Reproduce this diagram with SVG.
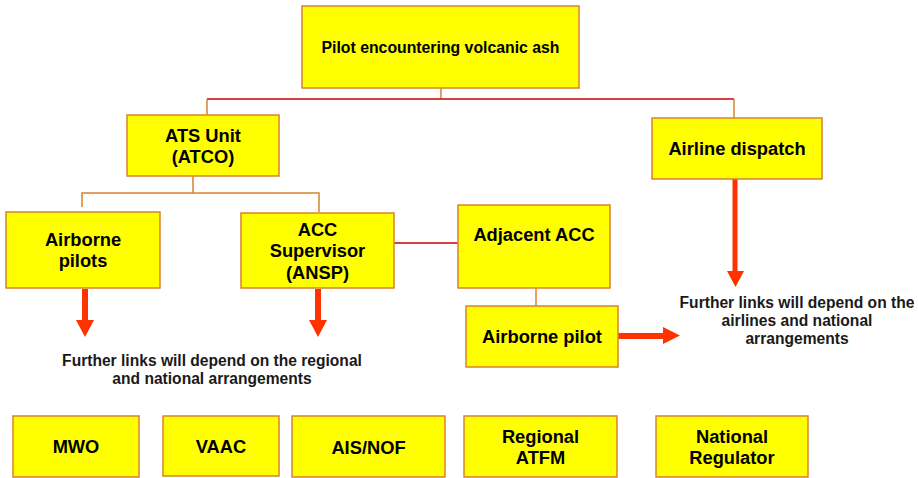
<svg xmlns="http://www.w3.org/2000/svg" width="918" height="478" viewBox="0 0 918 478">
<style>
.box{fill:#ffff00;stroke:#d9822b;stroke-width:1.5}
.t{font-family:"Liberation Sans",Arial,sans-serif;font-weight:bold;font-size:18.3px;fill:#000;text-anchor:middle}
.n{font-family:"Liberation Sans",Arial,sans-serif;font-weight:bold;font-size:15.6px;fill:#1a1a1a;text-anchor:middle}
.o{fill:none;stroke:#d9822b;stroke-width:1.5}
.r{fill:none;stroke:#cc0000;stroke-width:1.3}
.a{fill:#ff3300}
</style>
<rect width="918" height="478" fill="#fff"/>
<g id="connectors">
<path class="o" d="M441 88V99"/>
<path class="r" d="M207 99H734"/>
<path class="o" d="M207 99V115M734 99V118"/>
<path class="o" d="M193 176V193M82 207V193H319V212"/>
<path class="r" d="M394 243H458"/>
<path class="o" d="M536 288V307"/>
<polygon class="a" points="82,289 88,289 88,320 94,320 85,337 76,320 82,320"/>
<polygon class="a" points="315,289 321,289 321,320 327,320 318,337 309,320 315,320"/>
<polygon class="a" points="732.5,179 737.5,179 737.5,271 744,271 735.5,287 727,271 732.5,271"/>
<polygon class="a" points="618,333 663,333 663,327 680,335.5 663,344 663,339 618,339"/>
</g>
<g id="pilot"><rect class="box" x="302" y="6" width="277" height="82"/><text class="t" style="font-size:15.8px" x="440.5" y="53">Pilot encountering volcanic ash</text></g>
<g id="ats"><rect class="box" x="127" y="115" width="152" height="61"/><text class="t" x="203" y="142">ATS Unit</text><text class="t" x="203" y="163">(ATCO)</text></g>
<g id="dispatch"><rect class="box" x="652" y="118" width="170" height="61"/><text class="t" x="737" y="155">Airline dispatch</text></g>
<g id="airborne-pilots"><rect class="box" x="6" y="212" width="154" height="76"/><text class="t" x="83" y="246">Airborne</text><text class="t" x="83" y="267">pilots</text></g>
<g id="acc-supervisor"><rect class="box" x="241" y="213" width="153" height="75"/><text class="t" x="317.5" y="236">ACC</text><text class="t" x="317.5" y="257">Supervisor</text><text class="t" x="317.5" y="279">(ANSP)</text></g>
<g id="adjacent-acc"><rect class="box" x="458" y="205" width="152" height="83"/><text class="t" x="534" y="241">Adjacent ACC</text></g>
<g id="airborne-pilot"><rect class="box" x="466" y="306" width="152" height="61"/><text class="t" x="542" y="343">Airborne pilot</text></g>
<g id="note-right"><text class="n" x="797" y="308">Further links will depend on the</text><text class="n" x="797" y="326">airlines and national</text><text class="n" x="797" y="344">arrangements</text></g>
<g id="note-left"><text class="n" x="212" y="366">Further links will depend on the regional</text><text class="n" x="212" y="384">and national arrangements</text></g>
<g id="mwo"><rect class="box" x="13" y="416" width="126" height="61"/><text class="t" x="76" y="453">MWO</text></g>
<g id="vaac"><rect class="box" x="163" y="416" width="116" height="60"/><text class="t" x="221" y="453">VAAC</text></g>
<g id="aisnof"><rect class="box" x="292" y="416" width="153" height="61"/><text class="t" x="368.5" y="454">AIS/NOF</text></g>
<g id="atfm"><rect class="box" x="464" y="416" width="153" height="61"/><text class="t" x="540.5" y="443">Regional</text><text class="t" x="540.5" y="464">ATFM</text></g>
<g id="regulator"><rect class="box" x="656" y="416" width="152" height="61"/><text class="t" x="732" y="443">National</text><text class="t" x="732" y="464">Regulator</text></g>
</svg>
